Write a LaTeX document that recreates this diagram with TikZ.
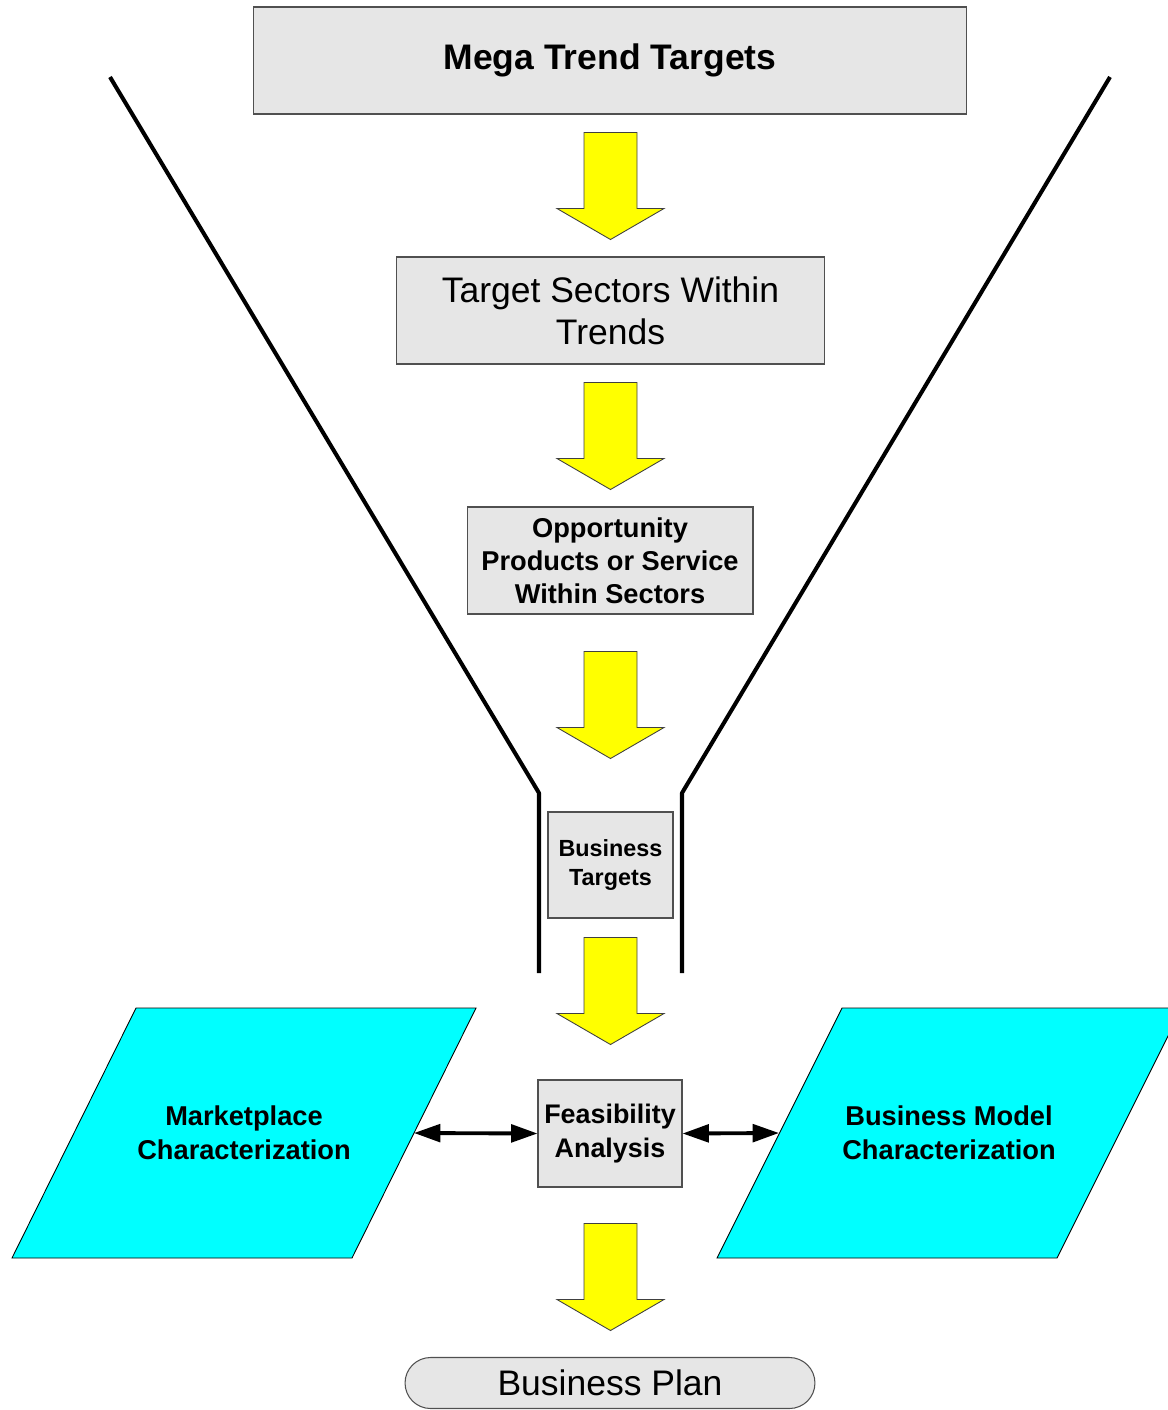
\documentclass[tikz,border=0pt]{standalone}
\usepackage{fontspec}
\setmainfont{Liberation Sans}
\usetikzlibrary{arrows.meta,shapes.misc,calc}
\definecolor{boxgray}{HTML}{E6E6E6}
\definecolor{boxline}{HTML}{505050}
\definecolor{flowyellow}{HTML}{FFFF00}
\definecolor{charcyan}{HTML}{00FFFF}
\tikzset{
  box/.style={draw=boxline, fill=boxgray, line width=0.6pt, align=center, inner sep=0pt},
  flowarrow/.pic={
    \path[fill=flowyellow, draw=black!75, line width=0.5pt]
      (-26.5,0) -- (26.5,0) -- (26.5,76) -- (53.5,76) -- (0,107)
      -- (-53.5,76) -- (-26.5,76) -- cycle;
  },
  funnel/.style={line width=2.3pt, line join=round},
  charbox/.style={fill=charcyan, draw=black, line width=0.5pt},
  link/.style={line width=2.2pt,
    {Triangle[length=15pt,width=10pt]}-{Triangle[length=15pt,width=10pt]}},
}
\begin{document}
\begin{tikzpicture}[x=0.02cm, y=-0.02cm]
    \useasboundingbox (0,0) rectangle (1168,1410);

    % Imbuto
    \draw[funnel] (110,77) -- (539,793) -- (539,973);
    \draw[funnel] (1110,77) -- (682,793) -- (682,973);

    % Caratterizzazioni
    \draw[charbox] (12,1258) -- (136,1008) -- (476,1008) -- (352,1258) -- cycle;
    \draw[charbox] (717,1258) -- (842,1008) -- (1182,1008) -- (1057,1258) -- cycle;
    \node[align=center, font=\fontsize{15.5}{19.3}\selectfont\bfseries] (mkt) at (244,1133)
        {Marketplace\\Characterization};
    \node[align=center, font=\fontsize{15.5}{19.3}\selectfont\bfseries] (bmc) at (949,1133)
        {Business Model\\Characterization};
    \coordinate (mktedge) at (414,1133);
    \coordinate (bmcedge) at (779,1133);

    % Caselle del flusso
    \node[box, minimum width=14.28cm, minimum height=2.14cm,
          font=\fontsize{20.2}{24}\selectfont\bfseries] (mega) at (610,60.5)
        {Mega Trend Targets};
    \node[box, minimum width=8.58cm, minimum height=2.14cm,
          font=\fontsize{20.2}{23.8}\selectfont] (sectors) at (610.5,310.5)
        {Target Sectors Within\\Trends};
    \node[box, minimum width=5.72cm, minimum height=2.14cm,
          font=\fontsize{15.5}{18.7}\selectfont\bfseries] (opp) at (610,560.5)
        {Opportunity\\Products or Service\\Within Sectors};
    \node[box, minimum width=2.5cm, minimum height=2.12cm,
          font=\fontsize{13.3}{17}\selectfont\bfseries] (targets) at (610.5,865)
        {Business\\Targets};
    \node[box, minimum width=2.88cm, minimum height=2.14cm,
          font=\fontsize{15.3}{19.8}\selectfont\bfseries] (feas) at (610,1133.5)
        {Feasibility\\Analysis};
    \node[box, rounded rectangle, minimum width=8.2cm, minimum height=1.02cm,
          font=\fontsize{20.2}{24}\selectfont] (plan) at (610,1383)
        {Business Plan};

    % Frecce gialle
    \pic at ($(mega.south)+(0.5,18)$) {flowarrow};
    \pic at ($(sectors.south)+(0,18)$) {flowarrow};
    \pic at ($(opp.south)+(0.5,37)$) {flowarrow};
    \pic at ($(targets.south)+(0,19)$) {flowarrow};
    \pic at ($(feas.south)+(0.5,36)$) {flowarrow};

    % Collegamenti
    \draw[link] (mktedge) -- (feas.west);
    \draw[link] (feas.east) -- (bmcedge);
\end{tikzpicture}
\end{document}
